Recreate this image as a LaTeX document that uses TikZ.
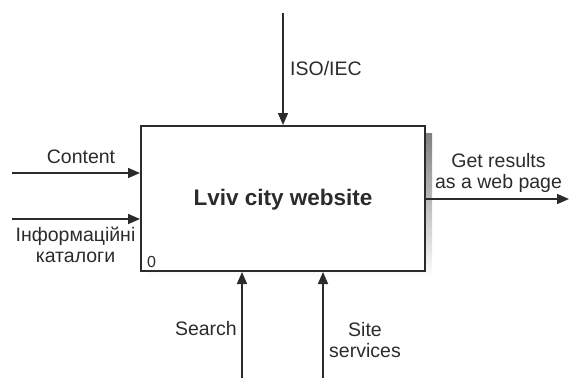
\documentclass[tikz,border=0pt]{standalone}
\usepackage{fontspec}
\setmainfont{Liberation Sans}
\usetikzlibrary{arrows.meta}
\definecolor{ink}{HTML}{2B2B2B}
\definecolor{shade}{HTML}{B8B8B8}
\begin{document}
\begin{tikzpicture}[x=1pt,y=-1pt,
  lbl/.style={text=ink,font=\fontsize{19.5}{21}\selectfont,inner sep=0pt,align=center},
  flow/.style={draw=ink,line width=1.6pt,-{Triangle[length=12pt,width=10pt]}},
  activity/.style={draw=ink,line width=2pt,fill=white,minimum width=284pt,minimum height=145pt,inner sep=0pt}]
\useasboundingbox (0,0) rectangle (570,378);
% drop shadow of the activity box
\fill[shade] (148,133) rectangle (432,278);
\node[activity] (proc) at (283,198.5) {};
\node[text=ink,font=\fontsize{22.5}{26}\selectfont\bfseries,anchor=base,inner sep=0pt] (title) at (283,205) {Lviv city website};
\node[text=ink,font=\fontsize{16}{18}\selectfont,anchor=base west,inner sep=0pt] (num) at (147,267) {0};
% free ends of the arrows
\coordinate (ctrlIn) at (283,13);
\coordinate (in1) at (12,173);
\coordinate (in2) at (12,219);
\coordinate (outEnd) at (569,199);
\coordinate (mech1) at (242,378);
\coordinate (mech2) at (323,378);
% arrows
\draw[flow] (ctrlIn) -- (ctrlIn |- proc.north);
\draw[flow] (in1) -- (in1 -| proc.west);
\draw[flow] (in2) -- (in2 -| proc.west);
\draw[flow] (outEnd -| proc.east) -- (outEnd);
\draw[flow] (mech1) -- (mech1 |- proc.south);
\draw[flow] (mech2) -- (mech2 |- proc.south);
% labels (base anchor sits on the last line)
\node[lbl,anchor=base west] (lctrl) at (290,75) {ISO/IEC};
\node[lbl,anchor=base] (lin1) at (81,163) {Content};
\node[lbl,anchor=base] (lin2) at (75.5,262) {Інформаційні\\каталоги};
\node[lbl,anchor=base] (lout) at (498.5,188) {Get results\\as a web page};
\node[lbl,anchor=base east] (lm1) at (237,335) {Search};
\node[lbl,anchor=base] (lm2) at (365,357) {Site\\services};
\end{tikzpicture}
\end{document}
